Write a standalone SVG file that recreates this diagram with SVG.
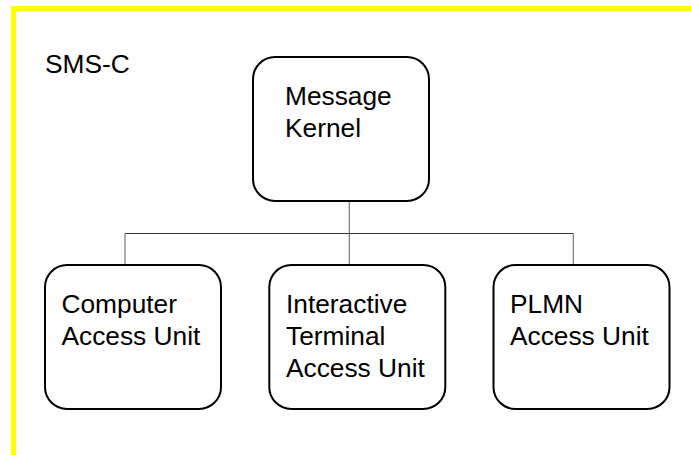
<svg xmlns="http://www.w3.org/2000/svg" width="691" height="455" viewBox="0 0 691 455">
<style>
.box{fill:#fff;stroke:#000;stroke-width:2}
.lbl{font-family:"Liberation Sans",Arial,sans-serif;font-size:26.3px;fill:#000}
.conn{fill:none;stroke:#333;stroke-width:1}
.connv{fill:none;stroke:#777;stroke-width:1.2}
</style>
<rect x="0" y="0" width="691" height="455" fill="#fff"/>
<rect x="13.5" y="8.5" width="700" height="470" fill="none" stroke="#ffff00" stroke-width="5"/>
<text class="lbl" x="45" y="72.7">SMS-C</text>
<g id="connectors">
<line class="connv" x1="349.3" y1="201" x2="349.3" y2="265"/>
<line class="conn" x1="125" y1="233.5" x2="573.3" y2="233.5"/>
<line class="connv" x1="125" y1="233.5" x2="125" y2="265"/>
<line class="connv" x1="573.3" y1="233.5" x2="573.3" y2="265"/>
</g>
<g id="kernel">
<rect class="box" x="253" y="57" width="176" height="144" rx="22" ry="22"/>
<text class="lbl" x="285" y="105">Message</text>
<text class="lbl" x="285" y="137">Kernel</text>
</g>
<g id="cau">
<rect class="box" x="45" y="265" width="176" height="144" rx="22" ry="22"/>
<text class="lbl" x="61.5" y="313">Computer</text>
<text class="lbl" x="61.5" y="345">Access Unit</text>
</g>
<g id="itau">
<rect class="box" x="269.3" y="265" width="176" height="144" rx="22" ry="22"/>
<text class="lbl" x="286" y="313">Interactive</text>
<text class="lbl" x="286" y="345">Terminal</text>
<text class="lbl" x="286" y="377">Access Unit</text>
</g>
<g id="plmn">
<rect class="box" x="493.5" y="265" width="176" height="144" rx="22" ry="22"/>
<text class="lbl" x="510" y="313">PLMN</text>
<text class="lbl" x="510" y="345">Access Unit</text>
</g>
</svg>
